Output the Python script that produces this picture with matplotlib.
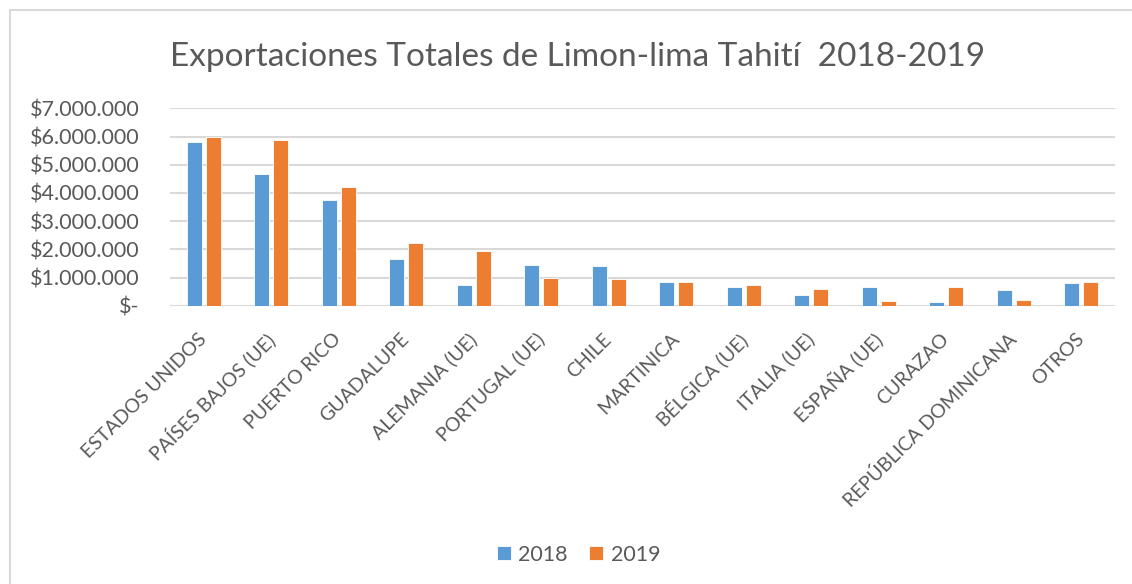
import matplotlib.pyplot as plt
from matplotlib.ticker import FuncFormatter
from matplotlib.lines import Line2D
import numpy as np

plt.rcParams['font.family'] = ['Lato', 'DejaVu Sans']

# Datos
paises = ['ESTADOS UNIDOS', 'PAÍSES BAJOS (UE)', 'PUERTO RICO', 'GUADALUPE',
          'ALEMANIA (UE)', 'PORTUGAL (UE)', 'CHILE', 'MARTINICA', 'BÉLGICA (UE)',
          'ITALIA (UE)', 'ESPAÑA (UE)', 'CURAZAO', 'REPÚBLICA DOMINICANA', 'OTROS']
exp_2018 = [5790000, 4670000, 3750000, 1660000, 730000, 1440000, 1410000,
            830000, 670000, 370000, 650000, 130000, 560000, 820000]
exp_2019 = [5980000, 5890000, 4220000, 2210000, 1930000, 970000, 950000,
            830000, 730000, 580000, 160000, 660000, 210000, 840000]
years = ['2018', '2019']

GRAY = '#595959'
BLUE = '#5B9BD5'
ORANGE = '#ED7D31'

fig = plt.figure(figsize=(11.32, 5.84), dpi=100)
ax = fig.add_axes([0.150, 0.4765, 0.835, 0.338])

x = np.arange(len(paises))
w = 0.222
ax.bar(x - 0.141, exp_2018, w, color=BLUE, edgecolor='white', linewidth=0.6, label=years[0], zorder=3)
ax.bar(x + 0.141, exp_2019, w, color=ORANGE, edgecolor='white', linewidth=0.6, label=years[1], zorder=3)

ax.set_xlim(-0.5, len(paises) - 0.5)
ax.set_ylim(0, 7000000)
ax.set_yticks(np.arange(0, 7000001, 1000000))

def fmt(v, pos):
    if v == 0:
        return '$-'
    return '$' + f'{int(v):,}'.replace(',', '.')

ax.yaxis.set_major_formatter(FuncFormatter(fmt))
ax.grid(axis='y', color='#D9D9D9', linewidth=1.5, zorder=0)
for s in ax.spines.values():
    s.set_visible(False)
ax.tick_params(axis='both', length=0, colors=GRAY)
ax.tick_params(axis='y', labelsize=15.5, pad=22)
ax.set_xticks(x)
ax.set_xticklabels(paises, rotation=45, ha='right', va='center', rotation_mode='anchor',
                   fontsize=14, color=GRAY)
ax.tick_params(axis='x', pad=22)

fig.text(0.51, 0.903, 'Exportaciones Totales de Limon-lima Tahití  2018-2019',
         ha='center', va='center', fontsize=24, color=GRAY)

leg = ax.legend(loc='center', bbox_to_anchor=(0.511, 0.05), bbox_transform=fig.transFigure,
                ncol=2, frameon=False, fontsize=15.5, handlelength=0.65, handleheight=0.65,
                handletextpad=0.35, columnspacing=1.0)
for t in leg.get_texts():
    t.set_color(GRAY)

# borde del area del grafico
fig.add_artist(Line2D([10 / 1132, 1.0], [1 - 10 / 584, 1 - 10 / 584], color='#D9D9D9', linewidth=1.5))
fig.add_artist(Line2D([10 / 1132, 10 / 1132], [1 - 10 / 584, 0], color='#D9D9D9', linewidth=1.5))

fig.savefig('out.png', dpi=100)
